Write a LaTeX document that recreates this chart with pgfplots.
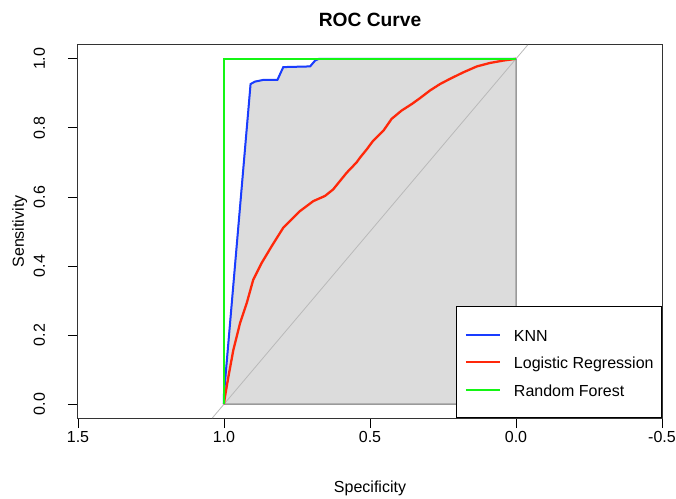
\documentclass[border=0pt]{standalone}
\usepackage{fontspec}
\setmainfont{Liberation Sans}
\usepackage{pgfplots}
\pgfplotsset{compat=1.18}
\definecolor{gainsboro}{RGB}{220,220,220}
\definecolor{knnblue}{RGB}{25,60,255}
\definecolor{lrred}{RGB}{255,40,10}
\definecolor{rfgreen}{RGB}{20,245,20}
\definecolor{diaggray}{RGB}{185,185,185}
\begin{document}
\begin{tikzpicture}
\path[use as bounding box] (0pt,0pt) rectangle (676pt,498pt);
\begin{axis}[
  at={(78pt,80pt)}, anchor=south west,
  scale only axis, width=584pt, height=373pt,
  x dir=reverse,
  xmin=-0.5, xmax=1.5, ymin=-0.04, ymax=1.04,
  xtick={1.5,1,0.5,0,-0.5},
  xticklabels={1.5,1.0,0.5,0.0,-0.5},
  ytick={0,0.2,0.4,0.6,0.8,1},
  yticklabels={0.0,0.2,0.4,0.6,0.8,1.0},
  xtick pos=bottom, ytick pos=left,
  tick align=outside, major tick length=10pt,
  tick style={black, line width=0.8pt},
  axis line style={black!80, line width=1pt},
  every tick label/.append style={font=\fontsize{16}{19}\selectfont},
  xticklabel style={anchor=base, yshift=-14pt},
  yticklabel style={rotate=90, anchor=base, yshift=23pt},
  xlabel={Specificity}, ylabel={Sensitivity},
  xlabel style={font=\fontsize{16}{19}\selectfont, at={(axis description cs:0.5,0)}, anchor=base, yshift=-74pt},
  ylabel style={font=\fontsize{16}{19}\selectfont, at={(axis description cs:0,0.5)}, anchor=base, yshift=54pt},
  title={ROC Curve},
  title style={font=\bfseries\fontsize{19.2}{23}\selectfont, at={(axis description cs:0.5,1)}, anchor=base, yshift=12pt},
  legend style={at={(axis description cs:1,0)}, anchor=south east, draw=black, line width=0.8pt, fill=white,
    inner xsep=8pt, inner ysep=20pt, row sep=11.5pt, column sep=13pt,
    font=\fontsize{16}{19}\selectfont,
    nodes={inner sep=0pt, text height=14.7pt, text depth=1.3pt}},
  legend cell align=left,
  legend image code/.code={\path (0pt,0pt) -- (34pt,0pt); \draw[#1, line width=1pt] (4pt,0pt) -- (34pt,0pt);},
]
% AUC polygon (KNN)
\addplot[fill=gainsboro, draw=black!60, line width=1pt, forget plot] coordinates {
 (1,0) (1,0.03) (0.909,0.927) (0.894,0.934) (0.865,0.939) (0.817,0.939) (0.797,0.976)
 (0.705,0.978) (0.688,0.995) (0.675,1.0) (0,1) (0,0) (1,0)};
% diagonal
\addplot[diaggray, line width=0.8pt, forget plot] coordinates {(1.04,-0.04) (-0.04,1.04)};
% KNN
\addplot[knnblue, line width=2pt] coordinates {
 (1,0) (1,0.03) (0.909,0.927) (0.894,0.934) (0.865,0.939) (0.817,0.939) (0.797,0.976)
 (0.705,0.978) (0.688,0.995) (0.675,1.0) (0,1)};
\addlegendentry{KNN}
% Logistic Regression
\addplot[lrred, line width=2.3pt] coordinates {
 (1,0) (0.997,0.02) (0.985,0.079) (0.968,0.157) (0.945,0.235) (0.922,0.293) (0.9,0.36)
 (0.871,0.409) (0.837,0.457) (0.797,0.511) (0.74,0.559) (0.694,0.588) (0.654,0.603)
 (0.626,0.622) (0.58,0.67) (0.546,0.70) (0.534,0.714) (0.511,0.738) (0.489,0.763)
 (0.454,0.792) (0.426,0.826) (0.392,0.85) (0.357,0.869) (0.329,0.886) (0.295,0.908)
 (0.26,0.927) (0.226,0.942) (0.18,0.961) (0.134,0.978) (0.089,0.988) (0.043,0.995) (0,1)};
\addlegendentry{Logistic Regression}
% Random Forest
\addplot[rfgreen, line width=2pt] coordinates {(1,0) (1,1) (0,1)};
\addlegendentry{Random Forest}
\end{axis}
\end{tikzpicture}
\end{document}
